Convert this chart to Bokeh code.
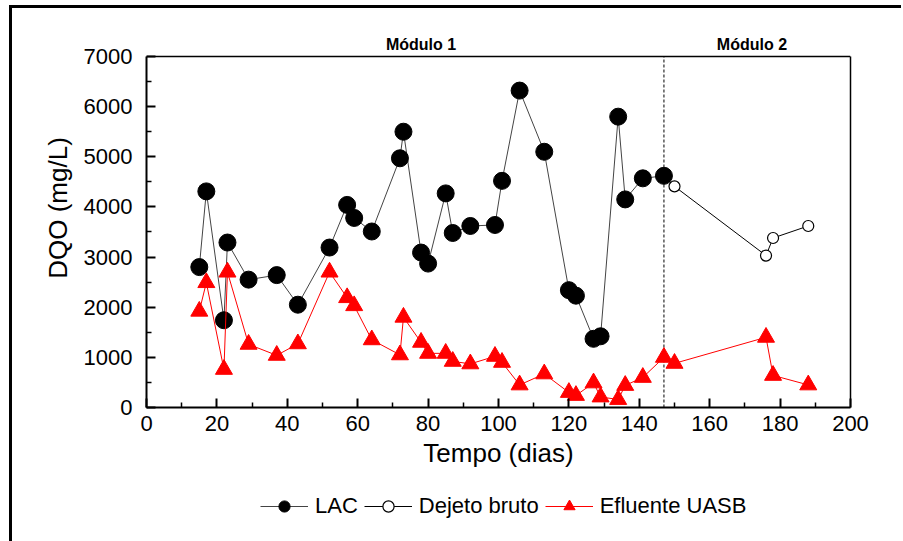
from bokeh.plotting import figure
from bokeh.models import (Range1d, FixedTicker, Span, Legend, LegendItem, LinearAxis)
from bokeh.layouts import column
from bokeh.core.properties import value
from bokeh.embed import file_html
from bokeh.resources import INLINE

# ---- data ----
lac_x = [15, 17, 22, 23, 29, 37, 43, 52, 57, 59, 64, 72, 73, 78, 80, 85, 87, 92,
         99, 101, 106, 113, 120, 122, 127, 129, 134, 136, 141, 147]
lac_y = [2800, 4310, 1740, 3290, 2550, 2640, 2050, 3190, 4040, 3780, 3510, 4970,
         5500, 3090, 2870, 4270, 3480, 3620, 3640, 4520, 6320, 5100, 2340, 2230,
         1370, 1420, 5800, 4150, 4570, 4620]

dejeto_x = [147, 150, 176, 178, 188]
dejeto_y = [4620, 4410, 3030, 3380, 3620]

uasb_x = [15, 17, 22, 23, 29, 37, 43, 52, 57, 59, 64, 72, 73, 78, 80, 85, 87, 92,
          99, 101, 106, 113, 120, 122, 127, 129, 134, 136, 141, 147, 150, 176, 178, 188]
uasb_y = [1920, 2490, 760, 2700, 1260, 1040, 1270, 2700, 2190, 2030, 1350, 1050,
          1800, 1300, 1080, 1080, 920, 870, 1020, 900, 450, 670, 300, 240, 490, 210,
          160, 440, 600, 1000, 880, 1400, 640, 450]

x_ticks = [0, 20, 40, 60, 80, 100, 120, 140, 160, 180, 200]
x_minor = [10, 30, 50, 70, 90, 110, 130, 150, 170, 190]
y_ticks = [0, 1000, 2000, 3000, 4000, 5000, 6000, 7000]
y_minor = [500, 1500, 2500, 3500, 4500, 5500, 6500]

module_split = 147
module_labels = ["Módulo 1", "Módulo 2"]
module_label_x = [78, 172]
module_label_y = [7240, 7240]

FONT = "Liberation Sans"
W = 889
BL, BR = 134, 51
YMAX = 7000
YTOP = 7957   # headroom above the axis box for the module labels

# ---- main plot ----
p = figure(width=W, height=472, output_backend="svg", toolbar_location=None,
           x_range=Range1d(0, 200), y_range=Range1d(0, YTOP),
           min_border_left=BL, min_border_right=BR, min_border_top=0,
           min_border_bottom=73)

p.grid.visible = False
p.outline_line_color = None

for ax in (p.xaxis[0], p.yaxis[0]):
    ax.axis_line_width = 2
    ax.major_tick_in = 9
    ax.major_tick_out = 0
    ax.minor_tick_in = 5
    ax.minor_tick_out = 0
    ax.major_tick_line_width = 2
    ax.minor_tick_line_width = 1.5
    ax.major_label_text_font = FONT
    ax.major_label_text_font_size = "22px"
    ax.major_label_text_color = "black"
    ax.axis_label_text_font = FONT
    ax.axis_label_text_font_size = "26px"
    ax.axis_label_text_font_style = "normal"
    ax.axis_label_text_color = "black"

p.xaxis.ticker = FixedTicker(ticks=x_ticks, minor_ticks=x_minor)
p.yaxis.ticker = FixedTicker(ticks=y_ticks, minor_ticks=y_minor)
p.yaxis.bounds = (0, YMAX)
p.xaxis.axis_label = "Tempo (dias)"
p.yaxis.axis_label = "DQO (mg/L)"
p.xaxis.major_label_standoff = 8
p.yaxis.major_label_standoff = 14
p.xaxis.axis_label_standoff = 4
p.yaxis.axis_label_standoff = 8

# right edge of the box
rax = LinearAxis(ticker=FixedTicker(ticks=[]), bounds=(0, YMAX),
                 axis_line_width=1.5, major_tick_in=0, major_tick_out=0,
                 minor_tick_in=0, minor_tick_out=0,
                 major_label_text_font_size="0px")
p.add_layout(rax, "right")
# top edge of the box
p.add_layout(Span(location=YMAX, dimension="width", line_color="black",
                  line_width=1.5))

# dashed separator between modules
p.segment(x0=[module_split], y0=[y_ticks[0]], x1=[module_split], y1=[y_ticks[-1]],
          line_color="black", line_dash="3 2", line_width=1)

p.text(x=module_label_x, y=module_label_y, text=module_labels, text_align="center",
       text_baseline="middle", text_font=value(FONT), text_font_size="16px",
       text_font_style="bold", text_color="black")

d_line = p.line(dejeto_x, dejeto_y, line_color="black", line_width=1)
d_pts = p.scatter(dejeto_x, dejeto_y, marker="circle", size=11, fill_color="white",
                  line_color="black", line_width=1.2)

l_line = p.line(lac_x, lac_y, line_color="#444444", line_width=1)
l_pts = p.scatter(lac_x, lac_y, marker="circle", size=17, fill_color="black",
                  line_color="black")

u_line = p.line(uasb_x, uasb_y, line_color="red", line_width=1)
u_pts = p.scatter(uasb_x, uasb_y, marker="triangle", size=17, fill_color="red",
                  line_color="red")

# ---- legend strip (series redrawn out of view, only their legend glyphs show) ----
leg = figure(width=W, height=61, output_backend="svg", toolbar_location=None,
             x_range=p.x_range, y_range=Range1d(-2, -1),
             x_axis_type=None, y_axis_type=None,
             min_border_left=BL, min_border_right=BR, min_border_top=0,
             min_border_bottom=0)
leg.grid.visible = False
leg.outline_line_color = None
g1l = leg.line(lac_x, lac_y, line_color="#444444", line_width=1)
g1p = leg.scatter(lac_x, lac_y, marker="circle", size=17, fill_color="black",
                  line_color="black")
g2l = leg.line(dejeto_x, dejeto_y, line_color="black", line_width=1)
g2p = leg.scatter(dejeto_x, dejeto_y, marker="circle", size=11, fill_color="white",
                  line_color="black", line_width=1.2)
g3l = leg.line(uasb_x, uasb_y, line_color="red", line_width=1)
g3p = leg.scatter(uasb_x, uasb_y, marker="triangle", size=17, fill_color="red",
                  line_color="red")

legend = Legend(items=[
    LegendItem(label="LAC", renderers=[g1l, g1p]),
    LegendItem(label="Dejeto bruto", renderers=[g2l, g2p]),
    LegendItem(label="Efluente UASB", renderers=[g3l, g3p]),
], orientation="horizontal", location=(114, 21), margin=0, padding=4,
   spacing=6, label_standoff=7, glyph_width=48, glyph_height=28,
   label_text_font=FONT, label_text_font_size="22px", label_text_color="black",
   border_line_color=None, background_fill_alpha=0)
leg.add_layout(legend)

page = column(p, leg, spacing=0,
              styles={"border-left": "3px solid black", "border-top": "3px solid black",
                      "margin-left": "9px", "margin-top": "5px"})

open("out.html", "w").write(file_html(page, INLINE))
